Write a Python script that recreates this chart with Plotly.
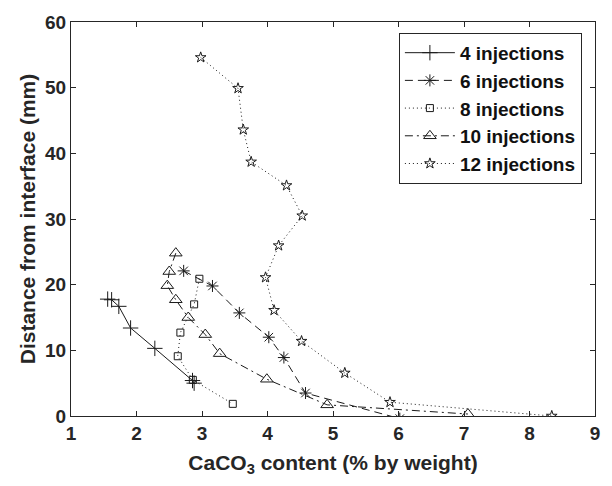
import plotly.graph_objects as go

# ---- data ----
x4 = [1.56, 1.62, 1.73, 1.91, 2.28, 2.855, 2.88]
y4 = [17.8, 17.7, 16.7, 13.4, 10.3, 5.4, 5.0]

x6 = [2.72, 3.16, 3.57, 4.02, 4.25, 4.58, 6.02]
y6 = [22.1, 19.8, 15.7, 12.0, 8.9, 3.5, -0.4]

x8 = [2.96, 2.88, 2.67, 2.63, 2.86, 3.47]
y8 = [20.9, 17.0, 12.7, 9.1, 5.5, 1.85]

x10 = [2.60, 2.50, 2.47, 2.60, 2.79, 3.05, 3.27, 3.99, 4.91, 7.06]
y10 = [24.8, 22.0, 19.85, 17.7, 15.0, 12.4, 9.5, 5.6, 1.7, 0.3]

x12 = [2.98, 3.55, 3.63, 3.75, 4.29, 4.53, 4.17, 3.97, 4.10, 4.52, 5.18, 5.87, 8.34]
y12 = [54.6, 49.9, 43.6, 38.7, 35.1, 30.5, 25.95, 21.1, 16.1, 11.4, 6.55, 2.1, 0.0]

names = ["4 injections", "6 injections", "8 injections", "10 injections", "12 injections"]
xticks = [1, 2, 3, 4, 5, 6, 7, 8, 9]
yticks = [0, 10, 20, 30, 40, 50, 60]

styles = [
    dict(dash="solid", symbol="cross-thin-open", size=11),
    dict(dash="8px,5px", symbol="asterisk-open", size=10),
    dict(dash="1px,3px", symbol="square-open", size=7),
    dict(dash="8px,4px,2px,4px", symbol="triangle-up-open", size=11),
    dict(dash="1px,3px", symbol="star-open", size=8),
]

LC = "#1a1a1a"
FONT = "Liberation Sans, Arial, sans-serif"

fig = go.Figure()
for xs, ys, nm, st in zip([x4, x6, x8, x10, x12], [y4, y6, y8, y10, y12], names, styles):
    fig.add_trace(go.Scatter(
        x=xs, y=ys, name=nm, mode="lines+markers",
        line=dict(color=LC, width=1, dash=st["dash"]),
        marker=dict(symbol=st["symbol"], size=st["size"], color=LC,
                    line=dict(color=LC, width=1)),
    ))

axis_common = dict(
    showline=True, linecolor="#262626", linewidth=1, mirror="ticks",
    ticks="inside", ticklen=5, tickcolor="#262626",
    showgrid=False, zeroline=False,
    tickfont=dict(family=FONT, size=19, color="#262626", weight="bold"),
)

fig.update_layout(
    width=612, height=486,
    margin=dict(l=71, r=16, t=15, b=70),
    paper_bgcolor="white", plot_bgcolor="white",
    font=dict(family=FONT, color="#262626"),
    xaxis=dict(range=[1, 9], tickvals=xticks,
               title=dict(text="<b>CaCO<sub>3</sub> content (% by weight)</b>",
                          font=dict(family=FONT, size=21, color="#262626"), standoff=12),
               **axis_common),
    yaxis=dict(range=[0, 60], tickvals=yticks,
               title=dict(text="<b>Distance from interface (mm)</b>",
                          font=dict(family=FONT, size=21, color="#262626"), standoff=3),
               **axis_common),
    legend=dict(x=0.975, xanchor="right", y=0.9725, yanchor="top",
                bgcolor="white", bordercolor="#262626", borderwidth=1,
                font=dict(family=FONT, size=19, color="#111", weight="bold"),
                itemwidth=50, tracegroupgap=0),
    showlegend=True,
)

fig.write_html("out.html")
